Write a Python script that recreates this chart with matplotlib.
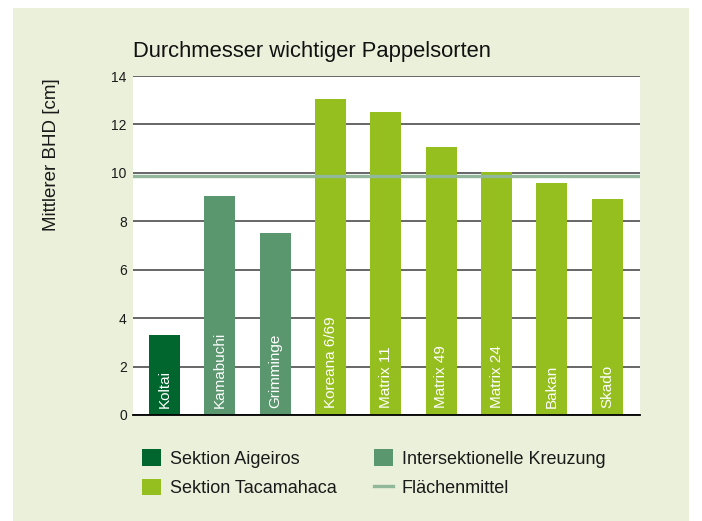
import matplotlib
matplotlib.use("Agg")
import matplotlib.pyplot as plt
from matplotlib.patches import Patch, Rectangle
from matplotlib.lines import Line2D

plt.rcParams["font.family"] = ["Liberation Sans", "DejaVu Sans"]

# Daten
sorten = ["Koltai", "Kamabuchi", "Grimminge", "Koreana 6/69", "Matrix 11",
          "Matrix 49", "Matrix 24", "Bakan", "Skado"]
bhd = [3.32, 9.05, 7.52, 13.06, 12.52, 11.07, 10.04, 9.59, 8.93]
gruppe = ["Aigeiros", "Kreuzung", "Kreuzung", "Tacamahaca", "Tacamahaca",
          "Tacamahaca", "Tacamahaca", "Tacamahaca", "Tacamahaca"]
flaechenmittel = 9.85
yticks = [0, 2, 4, 6, 8, 10, 12, 14]

farben = {"Aigeiros": "#00662e", "Kreuzung": "#5a966e", "Tacamahaca": "#95bf1f"}
mittel_farbe = "#92b89c"
hintergrund = "#ebf0da"

fig = plt.figure(figsize=(7.02, 5.21), dpi=100)
fig.patch.set_facecolor("white")
# hellgruener Kasten
fig.patches.append(Rectangle((13 / 702, 0), (689 - 13) / 702, 1 - 8 / 521,
                             transform=fig.transFigure, facecolor=hintergrund,
                             edgecolor="none", zorder=-10))

ax = fig.add_axes([133 / 702, 1 - 415 / 521, (640 - 133) / 702, (415 - 76) / 521])
ax.set_facecolor("white")

x = range(len(sorten))
ax.bar(x, bhd, width=0.56, color=[farben[g] for g in gruppe], zorder=2)
ax.axhline(flaechenmittel, color=mittel_farbe, lw=2.4, zorder=3)

for i, name in enumerate(sorten):
    ax.text(i, 0.3, name, rotation=90, ha="center", va="bottom",
            color="white", fontsize=11, zorder=4)

ax.set_xlim(-0.57, 8.59)
ax.set_ylim(0, 14)
ax.set_yticks(yticks)
ax.set_xticks([])
ax.tick_params(axis="y", length=0, pad=4.5, labelsize=10, labelcolor="#1a1a1a")
ax.grid(axis="y", color="#4d4d4d", lw=1.2, zorder=1)
ax.set_axisbelow(True)
for s in ["left", "right", "top"]:
    ax.spines[s].set_visible(False)
ax.spines["bottom"].set_color("black")
ax.spines["bottom"].set_linewidth(1.3)
ax.spines["bottom"].set_zorder(5)

fig.text(133 / 702, 1 - 57 / 521, "Durchmesser wichtiger Pappelsorten",
         fontsize=15.8, color="#111111", va="baseline", ha="left")
fig.text(52 / 702, 1 - 155 / 521, "Mittlerer BHD [cm]", rotation=90,
         fontsize=13.5, color="#1a1a1a", ha="center", va="center")

handles = [
    Patch(facecolor=farben["Aigeiros"], label="Sektion Aigeiros"),
    Patch(facecolor=farben["Tacamahaca"], label="Sektion Tacamahaca"),
    Patch(facecolor=farben["Kreuzung"], label="Intersektionelle Kreuzung"),
    Line2D([], [], color=mittel_farbe, lw=2.4, label="Flächenmittel"),
]
fig.legend(handles=handles, ncol=2, loc="upper left",
           bbox_to_anchor=(142 / 702, 1 - 449 / 521), frameon=False,
           fontsize=13, handlelength=1.05, handleheight=1.05,
           handletextpad=0.5, columnspacing=2.05, labelspacing=0.62,
           borderpad=0, borderaxespad=0, labelcolor="#1a1a1a")

fig.savefig("out.png", dpi=100)
